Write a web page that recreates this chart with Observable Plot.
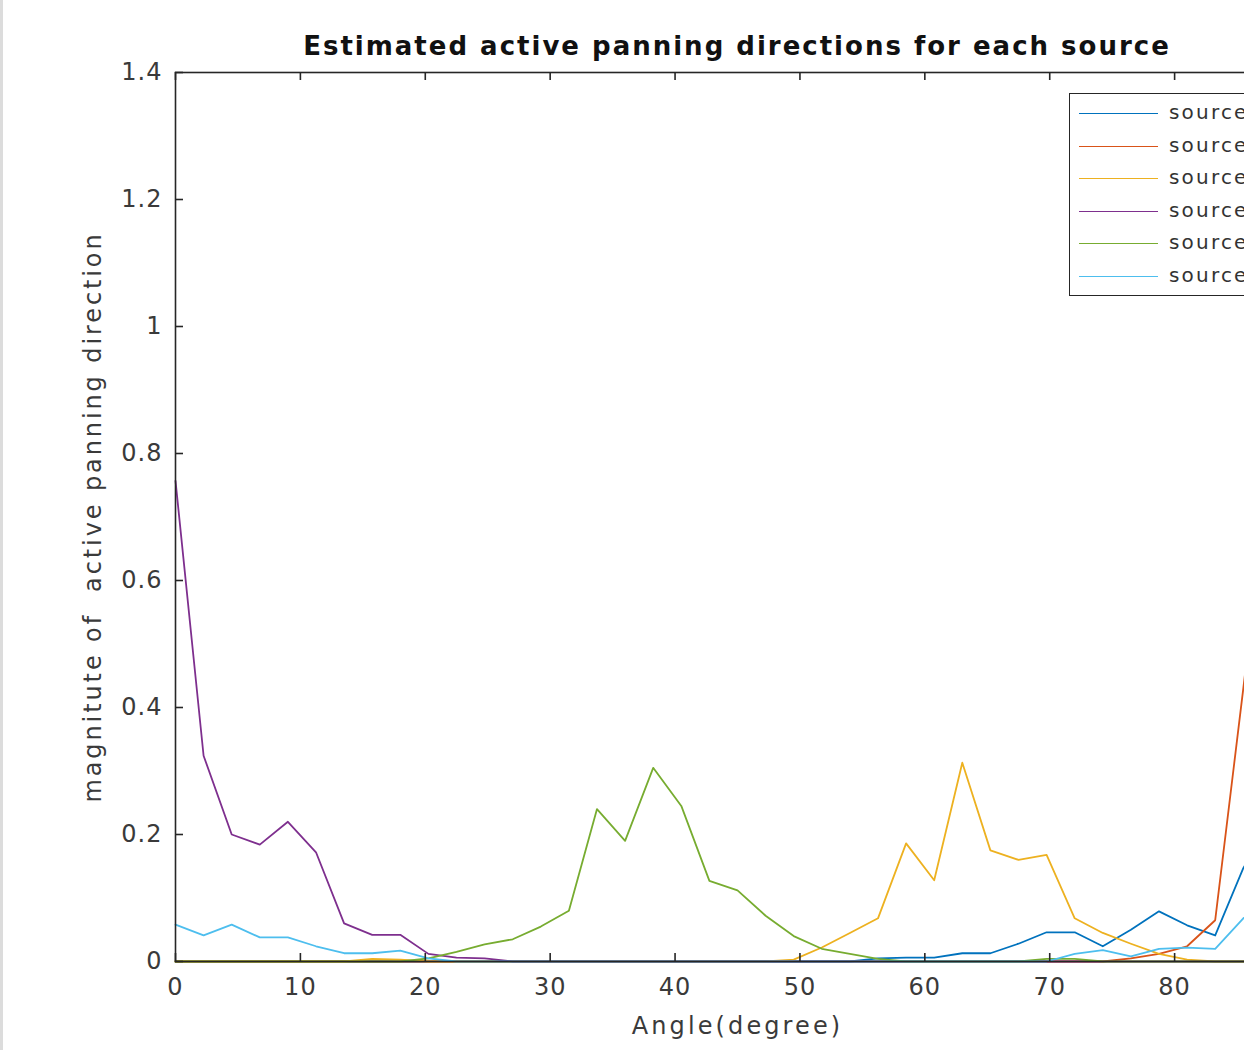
<!DOCTYPE html>
<html>
<head>
<meta charset="utf-8">
<script src="https://cdn.jsdelivr.net/npm/d3@7"></script>
<script src="https://cdn.jsdelivr.net/npm/@observablehq/plot@0.6"></script>
<style>
  html, body { margin: 0; padding: 0; background: #fff; overflow: hidden; width: 1244px; height: 1050px; }
  #wrap { position: relative; width: 1320px; height: 1050px; }
  #edge { position: absolute; left: 0; top: 0; width: 3px; height: 1050px; background: #dcdcdc; z-index: 5; }
  #title { position: absolute; left: 175px; width: 1124px; top: 29px; line-height: 34px; text-align: center;
           font-family: "DejaVu Sans"; font-weight: bold; font-size: 26px; color: #111; white-space: nowrap; letter-spacing: 2px; }
  #legend { position: absolute; left: 1069px; top: 93px; width: 220px; height: 203px; border: 1.5px solid #262626;
            background: #fff; box-sizing: border-box; padding-top: 4px; }
  .row { position: relative; height: 32.6px; }
  .sw { position: absolute; left: 9px; top: 15px; width: 79px; height: 0; border-top: 1.8px solid; }
  .lab { position: absolute; left: 99px; top: 2px; font-family: "DejaVu Sans"; font-size: 20px; color: #333; letter-spacing: 2.2px; white-space: nowrap; }
  #chart svg g[aria-label="x-axis tick label"] text, #chart svg g[aria-label="y-axis tick label"] text { letter-spacing: 1px; }
  #chart svg g[aria-label="x-axis label"] text { letter-spacing: 3.1px; }
  #chart svg g[aria-label="y-axis label"] text { letter-spacing: 2.9px; }
</style>
</head>
<body>
<div id="wrap">
  <div id="edge"></div>
  <div id="chart"></div>
  <div id="title"></div>
  <div id="legend"></div>
</div>
<script>
// ---- data ----
const titleText = "Estimated active panning directions for each source";
const xLabel = "Angle(degree)";
const yLabel = "magnitute of\u00a0 active panning direction";
const names = ["source 1", "source 2", "source 3", "source 4", "source 5", "source 6"];
const colors = ["#0072BD", "#D95319", "#EDB120", "#7E2F8E", "#77AC30", "#4DBEEE"];
const xTicks = [0, 10, 20, 30, 40, 50, 60, 70, 80, 90];
const yTicks = [0, 0.2, 0.4, 0.6, 0.8, 1, 1.2, 1.4];
const yTickLabels = ["0", "0.2", "0.4", "0.6", "0.8", "1", "1.2", "1.4"];

const angles = [0, 2.25, 4.5, 6.75, 9, 11.25, 13.5, 15.75, 18, 20.25,
  22.5, 24.75, 27, 29.25, 31.5, 33.75, 36, 38.25, 40.5, 42.75,
  45, 47.25, 49.5, 51.75, 54, 56.25, 58.5, 60.75, 63, 65.25,
  67.5, 69.75, 72, 74.25, 76.5, 78.75, 81, 83.25, 85.5, 87.75, 90];

const source1 = [0, 0, 0, 0, 0, 0, 0, 0, 0, 0,
  0, 0, 0, 0, 0, 0, 0, 0, 0, 0,
  0, 0, 0, 0, 0, 0.005, 0.006, 0.006, 0.013, 0.013,
  0.028, 0.046, 0.046, 0.024, 0.05, 0.079, 0.057, 0.041, 0.147, 0.22, 0.25];
const source2 = [0, 0, 0, 0, 0, 0, 0, 0, 0, 0,
  0, 0, 0, 0, 0, 0, 0, 0, 0, 0,
  0, 0, 0, 0, 0, 0, 0, 0, 0, 0,
  0, 0, 0, 0, 0.005, 0.012, 0.024, 0.065, 0.43, 0.8, 1.0];
const source3 = [0, 0, 0, 0, 0, 0, 0, 0.004, 0.003, 0,
  0, 0, 0, 0, 0, 0, 0, 0, 0, 0,
  0, 0, 0.003, 0.022, 0.045, 0.068, 0.186, 0.128, 0.313, 0.175,
  0.16, 0.168, 0.068, 0.045, 0.028, 0.012, 0.003, 0, 0, 0, 0];
const source4 = [0.757, 0.324, 0.2, 0.184, 0.22, 0.172, 0.06, 0.042, 0.042, 0.012,
  0.006, 0.005, 0, 0, 0, 0, 0, 0, 0, 0,
  0, 0, 0, 0, 0, 0, 0, 0, 0, 0,
  0, 0, 0, 0, 0, 0, 0, 0, 0, 0, 0];
const source5 = [0, 0, 0, 0, 0, 0, 0, 0, 0, 0.005,
  0.015, 0.027, 0.035, 0.055, 0.08, 0.24, 0.19, 0.305, 0.245, 0.127,
  0.112, 0.072, 0.04, 0.02, 0.012, 0.004, 0, 0, 0, 0,
  0, 0.004, 0.004, 0, 0, 0, 0, 0, 0, 0, 0];
const source6 = [0.058, 0.041, 0.058, 0.038, 0.038, 0.024, 0.013, 0.013, 0.017, 0.005,
  0, 0, 0, 0, 0, 0, 0, 0, 0, 0,
  0, 0, 0, 0, 0, 0, 0, 0, 0, 0,
  0, 0, 0.012, 0.018, 0.008, 0.02, 0.022, 0.02, 0.068, 0.1, 0.12];

const series = [source1, source2, source3, source4, source5, source6];

// ---- layout ----
const W = 1320, H = 1050;
const mL = 175, mR = 21, mT = 72, mB = 89;
const plotW = W - mL - mR, plotH = H - mT - mB;
const tickLen = 8;
const axisColor = "#262626";

const rows = [];
series.forEach((s, si) => angles.forEach((a, i) => rows.push({angle: a, value: s[i], source: names[si]})));

const chart = Plot.plot({
  width: W, height: H,
  marginLeft: mL, marginRight: mR, marginTop: mT, marginBottom: mB,
  style: {maxWidth: "none", fontFamily: "DejaVu Sans", fontSize: "24px", color: "#333", background: "transparent", overflow: "visible"},
  x: {domain: [0, 90]},
  y: {domain: [0, 1.4]},
  color: {domain: names, range: colors},
  marks: [
    Plot.line(rows, {x: "angle", y: "value", z: "source", stroke: "source", strokeWidth: 1.8}),
    Plot.frame({stroke: axisColor, strokeWidth: 1.6}),
    Plot.tickX(xTicks, {x: d => d, insetTop: plotH - tickLen, stroke: axisColor, strokeWidth: 1.6}),
    Plot.tickX(xTicks, {x: d => d, insetBottom: plotH - tickLen, stroke: axisColor, strokeWidth: 1.6}),
    Plot.tickY(yTicks, {y: d => d, insetRight: plotW - tickLen, stroke: axisColor, strokeWidth: 1.6}),
    Plot.tickY(yTicks, {y: d => d, insetLeft: plotW - tickLen, stroke: axisColor, strokeWidth: 1.6}),
    Plot.axisX(xTicks, {tickSize: 0, tickPadding: 16, tickFormat: d => String(d), fill: "#3a3a3a",
      label: xLabel, labelAnchor: "center", labelOffset: 72, labelArrow: "none"}),
    Plot.axisY(yTicks, {tickSize: 0, tickPadding: 13, tickFormat: (d) => yTickLabels[yTicks.indexOf(d)], fill: "#3a3a3a",
      label: yLabel, labelAnchor: "center", labelOffset: 92, labelArrow: "none"})
  ]
});
document.getElementById("chart").appendChild(chart);

document.getElementById("title").textContent = titleText;
const legend = document.getElementById("legend");
names.forEach((n, i) => {
  const r = document.createElement("div");
  r.className = "row";
  const sw = document.createElement("span");
  sw.className = "sw";
  sw.style.borderTopColor = colors[i];
  const lab = document.createElement("span");
  lab.className = "lab";
  lab.textContent = n;
  r.appendChild(sw); r.appendChild(lab);
  legend.appendChild(r);
});
</script>
</body>
</html>
